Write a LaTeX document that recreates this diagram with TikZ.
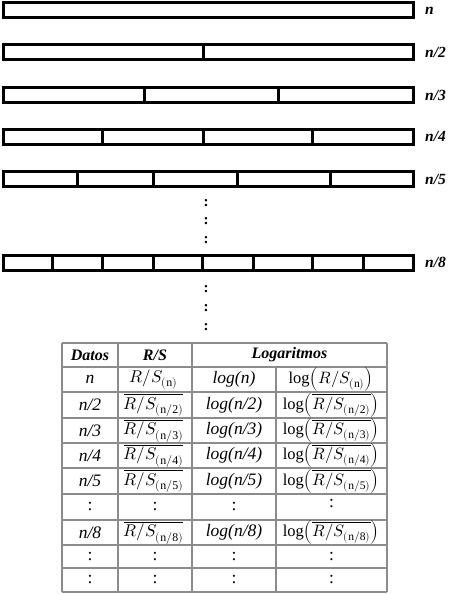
\documentclass[tikz,border=0pt]{standalone}
\usepackage{fontspec}
\usepackage{unicode-math}
\setmainfont{Liberation Serif}
\setmathfont{Latin Modern Math}
\definecolor{tline}{RGB}{140,140,140}
\begin{document}
\begin{tikzpicture}[x=1pt,y=-1pt,
  bar/.style={draw=black,line width=3pt},
  lbl/.style={anchor=west,inner sep=0pt,font=\fontsize{15.5}{17}\selectfont\bfseries\itshape},
  vdots/.style={inner sep=0pt,font=\fontsize{15}{16}\selectfont\bfseries},
  tgrid/.style={draw=tline,line width=1.1pt},
  hd/.style={inner sep=0pt,font=\fontsize{16}{18}\selectfont\bfseries\itshape},
  cell/.style={inner sep=0pt,font=\fontsize{17.5}{19}\selectfont},
  cellm/.style={inner sep=0pt,font=\fontsize{17}{19}\selectfont},
  celll/.style={inner sep=0pt,font=\fontsize{16.5}{18}\selectfont}
]
\useasboundingbox (0,0) rectangle (450,594);
% bars
\draw[bar] (3,3) rectangle (413.5,18);
\draw[bar] (3,45) rectangle (413.5,60);
\draw[bar] (203,45) -- (203,60);
\draw[bar] (3,87.5) rectangle (413.5,102.5);
\foreach \x in {144,278} \draw[bar] (\x,87.5) -- (\x,102.5);
\draw[bar] (3,129) rectangle (413.5,144);
\foreach \x in {102,203,312} \draw[bar] (\x,129) -- (\x,144);
\draw[bar] (3,171.5) rectangle (413.5,186.5);
\foreach \x in {77,153,237,330} \draw[bar] (\x,171.5) -- (\x,186.5);
\draw[bar] (3,255) rectangle (413.5,270);
\foreach \x in {52,102,153,202.5,253,312,363} \draw[bar] (\x,255) -- (\x,270);
% labels
\node[lbl] (l1) at (425,10.5) {n};
\node[lbl] (l2) at (425,52.5) {n/2};
\node[lbl] (l3) at (425,95) {n/3};
\node[lbl] (l4) at (425,136.5) {n/4};
\node[lbl] (l5) at (425,179) {n/5};
\node[lbl] (l8) at (425,262.5) {n/8};
% vertical dots
\node[vdots] (d1) at (206,203) {:};
\node[vdots] (d2) at (206,221.5) {:};
\node[vdots] (d3) at (206,240) {:};
\node[vdots] (d4) at (206,289) {:};
\node[vdots] (d5) at (206,308) {:};
\node[vdots] (d6) at (206,327) {:};
% table grid
\foreach \y in {343,367,392,418,443,468,494,520,545,568,592}
  \draw[tgrid] (62,\y) -- (387,\y);
\foreach \x in {62,118,192,387}
  \draw[tgrid] (\x,343) -- (\x,592);
\draw[tgrid] (276,367) -- (276,592);
% header
\node[hd] (h1) at (90,355) {Datos};
\node[hd] (h2) at (155,355) {R/S};
\node[hd] (h3) at (289.5,355) {Logaritmos};
% rows
\node[cell] (a1) at (90,379.5) {\textit{n}};
\node[cellm] (b1) at (153.5,379.5) {$R/S_{\mathrm{(n)}}$};
\node[cell] (c1) at (234,379.5) {\textit{log(n)}};
\node[celll] (e1) at (331,379.5) {$\mathrm{log}{\left(R/S_{\mathrm{(n)}}\right)}$};
\foreach \k/\yy in {2/405,3/430.5,4/455.5,5/481}{
  \node[cell] (a\k) at (90,\yy) {\textit{n/\k}};
  \node[cellm] (b\k) at (153.5,\yy) {$\overline{R/S_{\mathrm{(n/\k)}}}$};
  \node[cell] (c\k) at (234,\yy) {\textit{log(n/\k)}};
  \node[celll] (e\k) at (331,\yy) {$\mathrm{log}{\left(\overline{R/S_{\mathrm{(n/\k)}}}\right)}$};
}
\node[cell] (a6) at (90,507) {:};
\node[cell] (b6) at (155,507) {:};
\node[cell] (c6) at (234,507) {:};
\node[cell] (e6) at (331.5,504) {:};
\node[cell] (a8) at (90,532.5) {\textit{n/8}};
\node[cellm] (b8) at (153.5,532.5) {$\overline{R/S_{\mathrm{(n/8)}}}$};
\node[cell] (c8) at (234,532.5) {\textit{log(n/8)}};
\node[celll] (e8) at (331,532.5) {$\mathrm{log}{\left(\overline{R/S_{\mathrm{(n/8)}}}\right)}$};
\foreach \n/\yy in {9/556.5,10/580}{
  \node[cell] (a\n) at (90,\yy) {:};
  \node[cell] (b\n) at (155,\yy) {:};
  \node[cell] (c\n) at (234,\yy) {:};
  \node[cell] (e\n) at (331.5,\yy) {:};
}
\end{tikzpicture}
\end{document}
